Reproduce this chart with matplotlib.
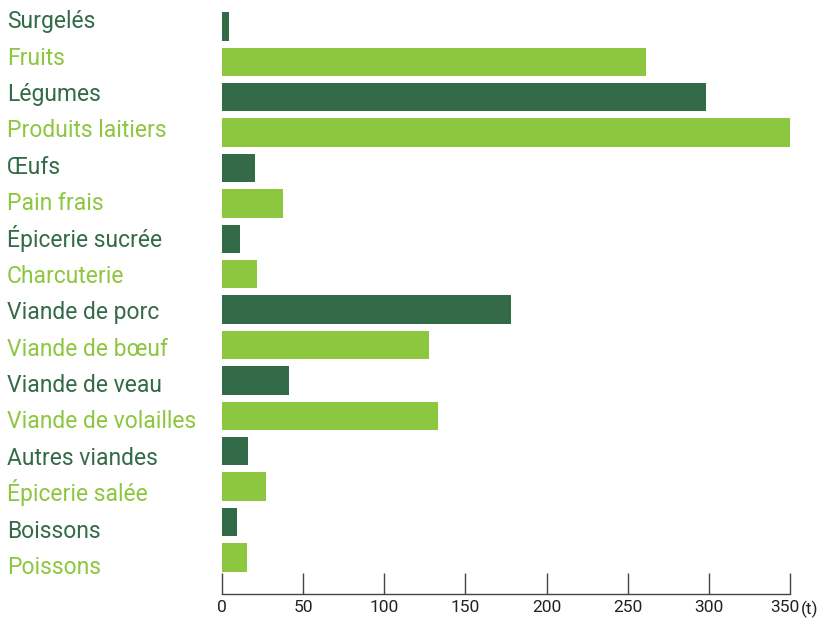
import matplotlib
matplotlib.use("Agg")
import matplotlib.pyplot as plt
from matplotlib.transforms import ScaledTranslation

categories = ["Surgelés", "Fruits", "Légumes", "Produits laitiers", "Œufs", "Pain frais",
              "Épicerie sucrée", "Charcuterie", "Viande de porc", "Viande de bœuf",
              "Viande de veau", "Viande de volailles", "Autres viandes", "Épicerie salée",
              "Boissons", "Poissons"]
values = [4.3, 261, 298, 351, 20.3, 37.6, 11.1, 21.6, 178, 127.5, 41.3, 133, 16, 27, 9.2, 15.4]
ticks = [0, 50, 100, 150, 200, 250, 300, 350]
tick_labels = ["0", "50", "100", "150", "200", "250", "300", "350"]
unit = "(t)"

DARK = "#336b48"
LIGHT = "#8dc63f"
FONT = ["Roboto", "DejaVu Sans"]

W, H = 819, 621
fig = plt.figure(figsize=(W / 100, H / 100), dpi=100)
left, right, top, bottom = 222, 790, 4, 594.3
ax = fig.add_axes([left / W, 1 - bottom / H, (right - left) / W, (bottom - top) / H])

colors = [DARK if i % 2 == 0 else LIGHT for i in range(len(categories))]
ypos = list(range(len(categories)))
ax.barh(ypos, values, height=0.805, color=colors)

ax.set_xlim(0, 350)
y0, pitch = 26.4, 35.4
ax.set_ylim((bottom - y0) / pitch, (top - y0) / pitch)

for s in ["top", "right", "left"]:
    ax.spines[s].set_visible(False)
ax.spines["bottom"].set_color("#444444")
ax.spines["bottom"].set_linewidth(1.0)
ax.set_yticks([])
ax.set_xticks(ticks)
ax.set_xticklabels(tick_labels, family=FONT, fontsize=12.5, color="#222222")
ax.tick_params(axis="x", direction="in", length=15, width=1.0, color="#444444", pad=4)

last = ax.get_xticklabels()[-1]
last.set_transform(last.get_transform() + ScaledTranslation(-5 / 100, 0, fig.dpi_scale_trans))

fig.text(818.5 / W, 1 - 614 / H, unit, ha="right", va="baseline", family=FONT,
         fontsize=12.5, color="#222222")

base0, lpitch = 28.3, 36.38
for i, (c, col) in enumerate(zip(categories, colors)):
    fig.text(7 / W, 1 - (base0 + lpitch * i) / H, c, ha="left", va="baseline",
             color=col, family=FONT, fontsize=16.5)

fig.savefig("out.png", dpi=100)
